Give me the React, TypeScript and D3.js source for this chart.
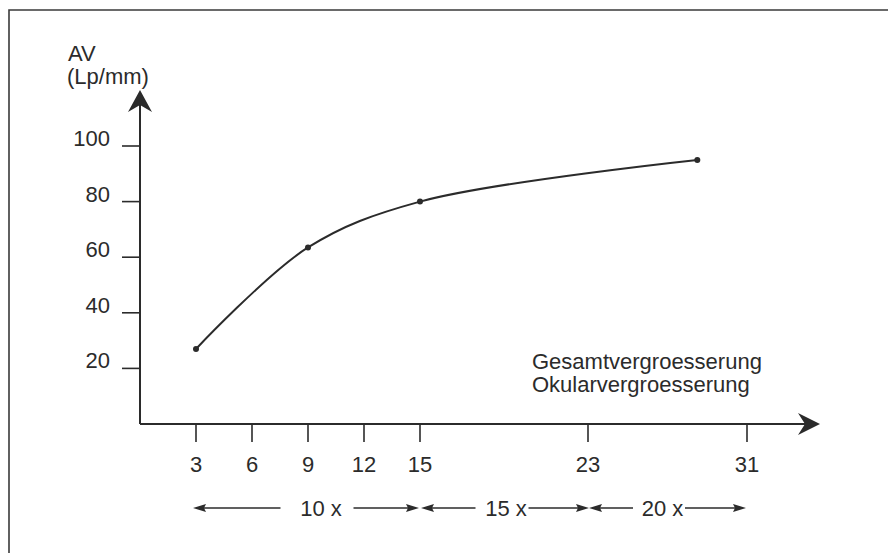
import React from "react";
import * as d3 from "d3";

// ---- data ----
const xTickValues = [3, 6, 9, 12, 15, 23, 31];
const yTickValues = [20, 40, 60, 80, 100];
const pointX = [3, 9, 15, 28.5];
const pointY = [27, 63.5, 80, 95];
const rangeFrom = [3, 15, 23];
const rangeTo = [15, 23, 31];
const rangeLabels = ["10 x", "15 x", "20 x"];
const yTitle = ["AV", "(Lp/mm)"];
const xTitle = ["Gesamtvergroesserung", "Okularvergroesserung"];

// ---- layout ----
const W = 888;
const H = 553;
const originX = 140;
const originY = 424;
const yTop = 90;
const xEnd = 820;
const labelShift = [15, 1, -5];
const gapLeft = [19, 9, 8];
const gapRight = [11, 1, 1];
const ink = "#2b2b2b";
const font = "'Liberation Sans', Arial, Helvetica, sans-serif";
const fs = 22;

export default function App() {
  const x = d3.scaleLinear().domain([3, 15, 23, 31]).range([196, 420, 588, 747]);
  const y = d3.scaleLinear().domain([0, 100]).range([originY, 146]);

  const line = d3
    .line<number>()
    .x((_, i) => x(pointX[i]))
    .y((d) => y(d))
    .curve(d3.curveCatmullRom.alpha(0.5));

  const arrowLeft = (tx: number, ty: number) =>
    `M${tx},${ty} L${tx + 13},${ty - 4} L${tx + 11},${ty} L${tx + 13},${ty + 4} Z`;
  const arrowRight = (tx: number, ty: number) =>
    `M${tx},${ty} L${tx - 13},${ty - 4} L${tx - 11},${ty} L${tx - 13},${ty + 4} Z`;

  const rowY = 508;

  return (
    <svg
      width={W}
      height={H}
      style={{ position: "absolute", left: 0, top: 0, display: "block", background: "#fff" }}
      fontFamily={font}
    >
      <rect x={0} y={0} width={W} height={H} fill="#fff" />
      {/* frame */}
      <path d={`M9,${H} L9,10 L${W},10`} fill="none" stroke="#3a3a3a" strokeWidth={1.6} />

      {/* y axis */}
      <line x1={originX} y1={originY} x2={originX} y2={yTop + 14} stroke={ink} strokeWidth={2} />
      <path
        d={`M${originX},${yTop} L${originX + 12},${yTop + 22} L${originX},${yTop + 15} L${originX - 12},${yTop + 22} Z`}
        fill={ink}
      />
      {yTickValues.map((v) => (
        <g key={"y" + v}>
          <line x1={originX - 18} x2={originX} y1={y(v)} y2={y(v)} stroke={ink} strokeWidth={1.6} />
          <text x={110} y={y(v)} textAnchor="end" fontSize={fs} fill={ink}>
            {v}
          </text>
        </g>
      ))}
      <text x={68} y={61} fontSize={fs} fill={ink}>
        {yTitle[0]}
      </text>
      <text x={67} y={84} fontSize={fs} fill={ink}>
        {yTitle[1]}
      </text>

      {/* x axis */}
      <line x1={originX} y1={originY} x2={xEnd - 14} y2={originY} stroke={ink} strokeWidth={2} />
      <path
        d={`M${xEnd},${originY} L${xEnd - 22},${originY - 11} L${xEnd - 15},${originY} L${xEnd - 22},${originY + 11} Z`}
        fill={ink}
      />
      {xTickValues.map((v) => (
        <g key={"x" + v}>
          <line x1={x(v)} x2={x(v)} y1={originY} y2={originY + 18} stroke={ink} strokeWidth={1.6} />
          <text x={x(v)} y={472} textAnchor="middle" fontSize={fs} fill={ink}>
            {v}
          </text>
        </g>
      ))}
      <text x={532} y={369} fontSize={fs} fill={ink}>
        {xTitle[0]}
      </text>
      <text x={532} y={392} fontSize={fs} fill={ink}>
        {xTitle[1]}
      </text>

      {/* curve */}
      <path d={line(pointY) || ""} fill="none" stroke={ink} strokeWidth={2} />
      {pointY.map((v, i) => (
        <circle key={"p" + i} cx={x(pointX[i])} cy={y(v)} r={3} fill={ink} />
      ))}

      {/* magnification ranges */}
      {rangeLabels.map((lab, i) => {
        const a = x(rangeFrom[i]) + (i === 0 ? -3 : 1);
        const b = x(rangeTo[i]) + (i === 1 ? 1 : -1);
        const c = (a + b) / 2 + labelShift[i];
        const half = 21.5;
        return (
          <g key={"r" + i}>
            <line x1={a + 10} x2={c - half - gapLeft[i]} y1={rowY} y2={rowY} stroke={ink} strokeWidth={1.5} />
            <line x1={c + half + gapRight[i]} x2={b - 10} y1={rowY} y2={rowY} stroke={ink} strokeWidth={1.5} />
            <path d={arrowLeft(a, rowY)} fill={ink} />
            <path d={arrowRight(b, rowY)} fill={ink} />
            <text x={c} y={516} textAnchor="middle" fontSize={fs} fill={ink}>
              {lab}
            </text>
          </g>
        );
      })}
    </svg>
  );
}
